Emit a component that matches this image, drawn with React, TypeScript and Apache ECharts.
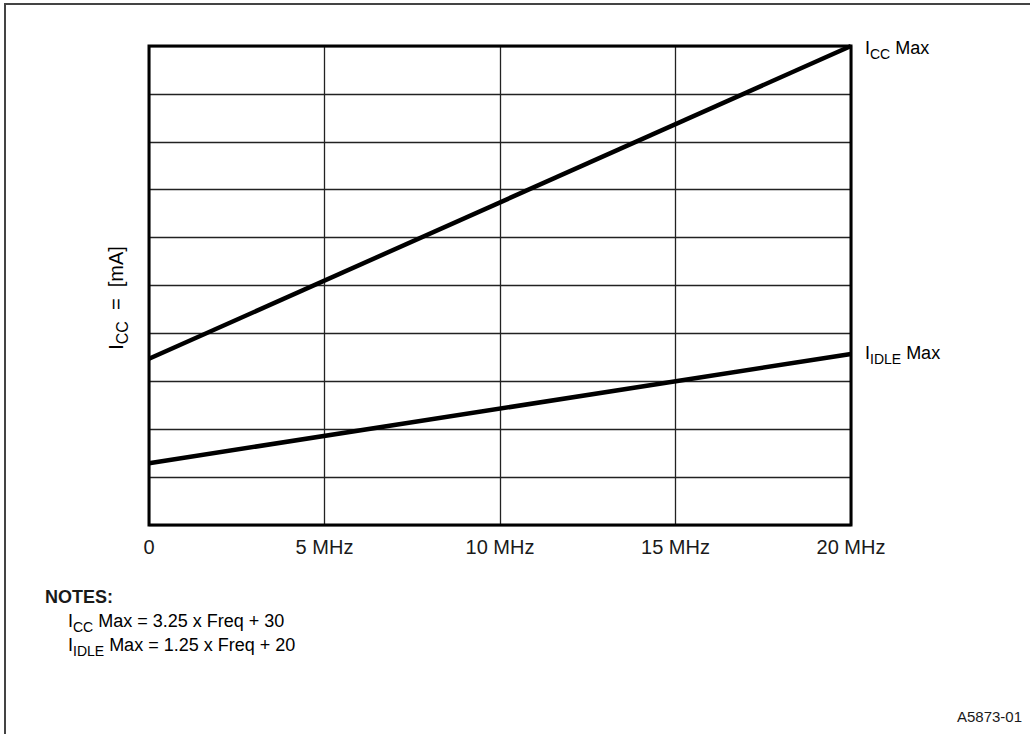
import React, { useEffect, useRef } from "react";
import * as echarts from "echarts";

const freqTicks = [0, 5, 10, 15, 20];
const freqLabels = ["0", "5 MHz", "10 MHz", "15 MHz", "20 MHz"];
const iccMaxFreq = [0, 20];
const iccMaxValues = [34.7, 100];
const idleMaxFreq = [0, 20];
const idleMaxValues = [12.9, 35.7];
const yMin = 0;
const yMax = 100;
const yInterval = 10;
const xMax = 20;
const xInterval = 5;

const FONT = "'Liberation Sans', Arial, Helvetica, sans-serif";
const TXT = "#1a1a1a";

const richBase = (size: number) => ({
  b: { fontSize: size, fontFamily: FONT, color: TXT, lineHeight: size + 8, verticalAlign: "middle" },
  s: { fontSize: Math.round(size * 0.8), fontFamily: FONT, color: TXT, lineHeight: Math.round(size * 0.8) + 2, verticalAlign: "bottom" },
});

export default function App() {
  const ref = useRef<HTMLDivElement>(null);
  useEffect(() => {
    if (!ref.current) return;
    const chart = echarts.init(ref.current, null, { renderer: "svg" });
    const labelFor = (v: number) => {
      const i = freqTicks.indexOf(v);
      return i >= 0 ? freqLabels[i] : "";
    };
    chart.setOption({
      animation: false,
      backgroundColor: "#fff",
      grid: {
        left: 149,
        top: 46,
        width: 702,
        height: 479,
        show: true,
        borderColor: "#000",
        borderWidth: 3,
        backgroundColor: "transparent",
        z: 10,
      },
      xAxis: {
        type: "value",
        min: 0,
        max: xMax,
        interval: xInterval,
        axisLine: { show: false },
        axisTick: { show: false },
        splitLine: { show: true, lineStyle: { color: "#222", width: 1.3 } },
        axisLabel: {
          margin: 12,
          fontSize: 20,
          fontFamily: FONT,
          color: TXT,
          formatter: (v: number) => labelFor(v),
        },
      },
      yAxis: {
        type: "value",
        min: yMin,
        max: yMax,
        interval: yInterval,
        axisLine: { show: false },
        axisTick: { show: false },
        axisLabel: { show: false },
        splitLine: { show: true, lineStyle: { color: "#222", width: 1.3 } },
      },
      series: [
        {
          name: "ICC Max",
          type: "line",
          data: iccMaxFreq.map((f, i) => [f, iccMaxValues[i]]),
          showSymbol: false,
          lineStyle: { color: "#000", width: 4.5 },
          z: 5,
        },
        {
          name: "IDLE Max",
          type: "line",
          data: idleMaxFreq.map((f, i) => [f, idleMaxValues[i]]),
          showSymbol: false,
          lineStyle: { color: "#000", width: 4.5 },
          z: 5,
        },
      ],
      graphic: [
        {
          type: "rect",
          shape: { x: 5, y: 4, width: 1200, height: 900 },
          style: { fill: "none", stroke: "#444", lineWidth: 2 },
          silent: true,
        },
        {
          type: "text",
          x: 116,
          y: 298,
          rotation: Math.PI / 2,
          style: {
            text: "{b|I}{s|CC}{b|  =  [mA]}",
            rich: richBase(20),
            align: "center",
            verticalAlign: "middle",
          },
        },
        {
          type: "text",
          x: 865,
          y: 48,
          style: {
            text: "{b|I}{s|CC}{b| Max}",
            rich: richBase(18),
            align: "left",
            verticalAlign: "middle",
          },
        },
        {
          type: "text",
          x: 865,
          y: 353,
          style: {
            text: "{b|I}{s|IDLE}{b| Max}",
            rich: richBase(18),
            align: "left",
            verticalAlign: "middle",
          },
        },
        {
          type: "text",
          x: 45,
          y: 597,
          style: {
            text: "NOTES:",
            font: `bold 18px ${FONT}`,
            fill: TXT,
            align: "left",
            verticalAlign: "middle",
          },
        },
        {
          type: "text",
          x: 68,
          y: 621,
          style: {
            text: "{b|I}{s|CC}{b| Max = 3.25 x Freq + 30}",
            rich: richBase(18),
            align: "left",
            verticalAlign: "middle",
          },
        },
        {
          type: "text",
          x: 68,
          y: 645,
          style: {
            text: "{b|I}{s|IDLE}{b| Max = 1.25 x Freq + 20}",
            rich: richBase(18),
            align: "left",
            verticalAlign: "middle",
          },
        },
        {
          type: "text",
          x: 1022,
          y: 716,
          style: {
            text: "A5873-01",
            font: `15px ${FONT}`,
            fill: TXT,
            align: "right",
            verticalAlign: "middle",
          },
        },
      ],
    });
    return () => chart.dispose();
  }, []);
  return (
    <div
      ref={ref}
      style={{ position: "absolute", left: 0, top: 0, width: 1030, height: 734 }}
    />
  );
}
